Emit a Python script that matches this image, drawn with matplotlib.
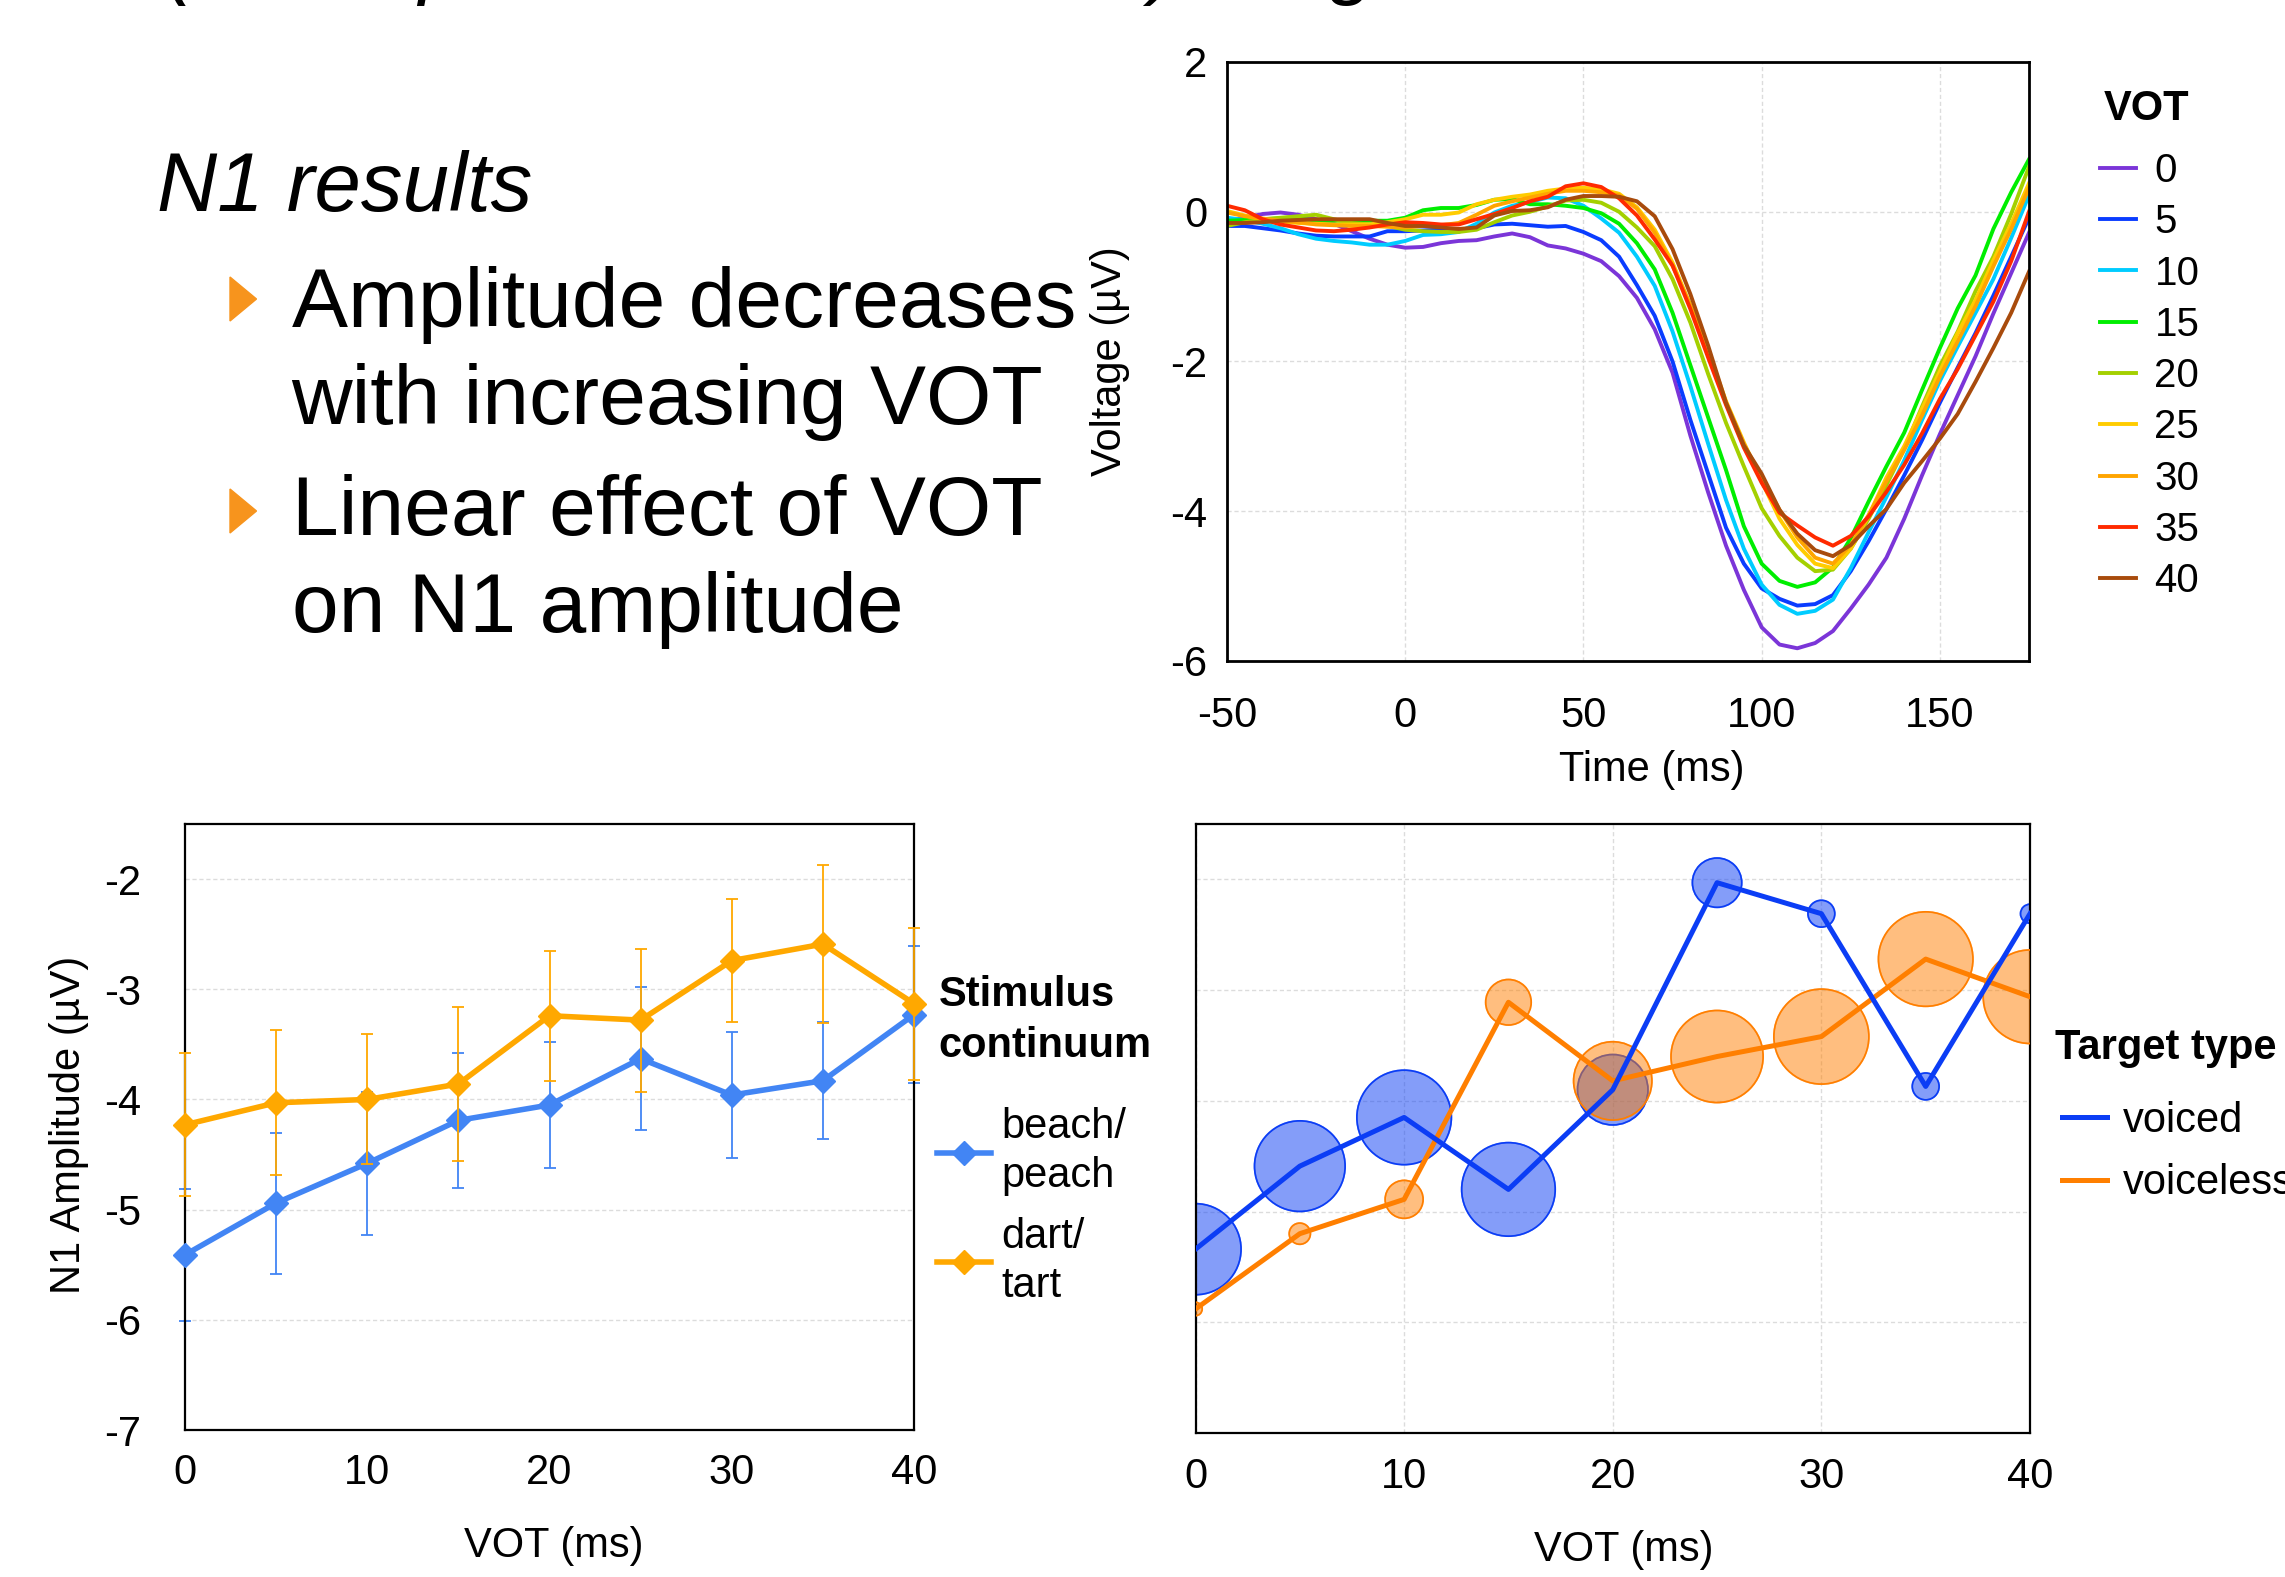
import numpy as np
import matplotlib
matplotlib.use("Agg")
import matplotlib.pyplot as plt
from matplotlib.lines import Line2D
from matplotlib.patches import Polygon

plt.rcParams["font.family"] = ["Liberation Sans", "DejaVu Sans"]
plt.rcParams["axes.unicode_minus"] = False

W, H = 2285, 1577

# ---- ERP waveforms by VOT step (top right) ----
time_ms = np.arange(-50, 176, 5)
vot_labels = ["0", "5", "10", "15", "20", "25", "30", "35", "40"]
vot_colors = ["#7b35d8", "#0a3cff", "#00ccff", "#00ee00", "#a4d000",
              "#ffcc00", "#ffa500", "#ff2a00", "#a84b0c"]

erp_0 = [-0.12, -0.08, -0.03, -0.01, -0.04, -0.10, -0.16, -0.26, -0.36, -0.44,
         -0.48, -0.47, -0.42, -0.39, -0.38, -0.33, -0.29, -0.34, -0.45, -0.49,
         -0.56, -0.66, -0.86, -1.15, -1.57, -2.15, -2.99, -3.75, -4.46, -5.05,
         -5.55, -5.78, -5.83, -5.76, -5.60, -5.30, -4.98, -4.62, -4.10, -3.52,
         -2.97, -2.45, -1.93, -1.36, -0.82, -0.28]
erp_5 = [-0.19, -0.19, -0.22, -0.25, -0.29, -0.32, -0.33, -0.33, -0.33, -0.26,
         -0.26, -0.25, -0.24, -0.26, -0.22, -0.17, -0.16, -0.18, -0.20, -0.19,
         -0.27, -0.38, -0.60, -0.98, -1.39, -2.00, -2.78, -3.50, -4.22, -4.70,
         -5.03, -5.17, -5.26, -5.24, -5.12, -4.80, -4.40, -3.97, -3.52, -3.05,
         -2.55, -2.08, -1.62, -1.12, -0.60, -0.08]
erp_10 = [-0.08, -0.11, -0.16, -0.22, -0.30, -0.36, -0.39, -0.41, -0.44, -0.44,
          -0.39, -0.31, -0.30, -0.27, -0.16, -0.01, 0.08, 0.13, 0.19, 0.18,
          0.08, -0.09, -0.28, -0.60, -0.99, -1.60, -2.33, -3.10, -3.85, -4.50,
          -4.98, -5.25, -5.37, -5.33, -5.18, -4.76, -4.28, -3.81, -3.32, -2.78,
          -2.26, -1.80, -1.35, -0.90, -0.35, 0.22]
erp_15 = [-0.12, -0.11, -0.10, -0.09, -0.09, -0.12, -0.12, -0.12, -0.12, -0.12,
          -0.08, 0.02, 0.05, 0.05, 0.09, 0.16, 0.17, 0.10, 0.10, 0.08,
          0.05, -0.02, -0.16, -0.42, -0.77, -1.35, -2.05, -2.75, -3.45, -4.20,
          -4.70, -4.93, -5.01, -4.95, -4.75, -4.36, -3.87, -3.40, -2.95, -2.38,
          -1.82, -1.29, -0.85, -0.23, 0.26, 0.70]
erp_20 = [-0.19, -0.14, -0.10, -0.08, -0.06, -0.04, -0.10, -0.15, -0.17, -0.19,
          -0.24, -0.26, -0.27, -0.27, -0.24, -0.14, -0.05, 0.00, 0.07, 0.15,
          0.16, 0.12, 0.00, -0.21, -0.46, -0.90, -1.48, -2.17, -2.82, -3.40,
          -3.96, -4.33, -4.62, -4.80, -4.78, -4.50, -4.10, -3.65, -3.17, -2.60,
          -2.06, -1.60, -1.06, -0.60, -0.03, 0.60]
erp_25 = [0.01, -0.05, -0.10, -0.13, -0.15, -0.16, -0.17, -0.17, -0.17, -0.14,
          -0.10, -0.04, -0.04, -0.01, 0.10, 0.16, 0.20, 0.23, 0.28, 0.31,
          0.32, 0.30, 0.24, 0.06, -0.24, -0.68, -1.25, -1.86, -2.53, -3.08,
          -3.60, -4.10, -4.45, -4.70, -4.76, -4.50, -4.06, -3.55, -3.13, -2.63,
          -2.13, -1.62, -1.18, -0.65, -0.16, 0.38]
erp_30 = [-0.01, -0.06, -0.09, -0.12, -0.14, -0.17, -0.18, -0.19, -0.19, -0.20,
          -0.21, -0.19, -0.18, -0.15, -0.04, 0.08, 0.14, 0.19, 0.24, 0.28,
          0.28, 0.26, 0.22, 0.04, -0.28, -0.72, -1.25, -1.90, -2.55, -3.10,
          -3.55, -3.98, -4.35, -4.62, -4.70, -4.45, -4.05, -3.60, -3.18, -2.72,
          -2.20, -1.73, -1.26, -0.73, -0.23, 0.32]
erp_35 = [0.08, 0.02, -0.10, -0.17, -0.21, -0.25, -0.26, -0.24, -0.21, -0.17,
          -0.14, -0.15, -0.17, -0.17, -0.10, -0.03, 0.05, 0.14, 0.20, 0.34,
          0.38, 0.33, 0.18, -0.05, -0.37, -0.72, -1.30, -1.95, -2.58, -3.15,
          -3.62, -4.02, -4.19, -4.35, -4.46, -4.33, -4.07, -3.74, -3.38, -2.96,
          -2.50, -2.10, -1.65, -1.20, -0.66, 0.00]
erp_40 = [-0.15, -0.15, -0.14, -0.12, -0.11, -0.10, -0.10, -0.10, -0.10, -0.15,
          -0.19, -0.19, -0.21, -0.23, -0.21, -0.05, 0.01, 0.02, 0.06, 0.16,
          0.21, 0.21, 0.20, 0.14, -0.06, -0.50, -1.10, -1.79, -2.55, -3.12,
          -3.50, -3.98, -4.30, -4.52, -4.60, -4.45, -4.20, -3.97, -3.62, -3.33,
          -3.03, -2.70, -2.27, -1.82, -1.35, -0.80]
erp_waves = [erp_0, erp_5, erp_10, erp_15, erp_20, erp_25, erp_30, erp_35, erp_40]

# ---- N1 amplitude by continuum (bottom left) ----
vot_steps = [0, 5, 10, 15, 20, 25, 30, 35, 40]
beach_peach = [-5.41, -4.94, -4.58, -4.19, -4.05, -3.63, -3.96, -3.83, -3.23]
beach_peach_err = [0.60, 0.64, 0.65, 0.61, 0.57, 0.65, 0.57, 0.53, 0.62]
dart_tart = [-4.23, -4.03, -4.00, -3.86, -3.24, -3.28, -2.74, -2.59, -3.13]
dart_tart_err = [0.65, 0.66, 0.59, 0.70, 0.59, 0.65, 0.56, 0.72, 0.69]

# ---- N1 by response type, bubble = share of responses (bottom right) ----
voiced_amp = [-5.34, -4.59, -4.15, -4.80, -3.90, -2.03, -2.31, -3.87, -2.31]
voiced_pct = [92, 91, 99, 97, 55, 27, 8, 8, 4]
voiceless_amp = [-5.88, -5.20, -4.89, -3.11, -3.82, -3.60, -3.42, -2.72, -3.06]
voiceless_pct = [2, 5, 16, 23, 68, 94, 100, 99, 97]

GRID = dict(color="#dcdcdc", linestyle=(0, (3, 2)), linewidth=1.0)

fig = plt.figure(figsize=(W / 100, H / 100), dpi=100)
fig.patch.set_facecolor("white")


def px_axes(left, top, right, bottom):
    return fig.add_axes([left / W, 1 - bottom / H, (right - left) / W, (bottom - top) / H])


# ---------- slide text ----------
# line of the previous slide text, only its descenders peek in at the top
for s, x in [("(", 165), ("p", 418), ("),", 1150), ("g", 1330)]:
    fig.text(x / W, 1 + 11 / H, s, fontsize=60, style="italic", va="baseline")

fig.text(157 / W, 1 - 211 / H, "N1 results", fontsize=60, style="italic", va="baseline")
fig.text(291.5 / W, 1 - 266 / H, "Amplitude decreases\nwith increasing VOT",
         fontsize=60.5, va="top", linespacing=1.31)
fig.text(291.5 / W, 1 - 474 / H, "Linear effect of VOT\non N1 amplitude",
         fontsize=60.5, va="top", linespacing=1.31)
for top in (277, 489):
    tri = [(230 / W, 1 - top / H), (256.5 / W, 1 - (top + 22) / H), (230 / W, 1 - (top + 44) / H)]
    fig.add_artist(Polygon(tri, closed=True, color="#f7941d", transform=fig.transFigure))

# ---------- ERP waveforms ----------
ax1 = px_axes(1227, 62, 2029, 661)
lines = []
for wave, c in zip(erp_waves, vot_colors):
    ln, = ax1.plot(time_ms, wave, color=c, linewidth=2.8)
    lines.append(ln)
ax1.set_xlim(-50, 175)
ax1.set_ylim(-6, 2)
ax1.set_xticks([-50, 0, 50, 100, 150])
ax1.set_yticks([-6, -4, -2, 0, 2])
ax1.grid(True, **GRID)
ax1.set_axisbelow(True)
ax1.tick_params(axis="both", length=0, labelsize=30)
ax1.tick_params(axis="x", pad=25)
ax1.tick_params(axis="y", pad=14)
for sp in ax1.spines.values():
    sp.set_linewidth(2.0)
ax1.set_xlabel("Time (ms)", fontsize=30)
ax1.set_ylabel("Voltage (µV)", fontsize=30)
ax1.xaxis.set_label_coords(0.529, -0.148)
ax1.yaxis.set_label_coords(-0.121, 0.5)

ax1.legend(lines, vot_labels, loc="upper left", bbox_to_anchor=(2100 / W, 1 - 152 / H),
           bbox_transform=fig.transFigure, frameon=False, fontsize=29,
           handlelength=0.9, handletextpad=0.45, labelspacing=0.33,
           borderpad=0, borderaxespad=0)
fig.text(2104 / W, 1 - 119.5 / H, "VOT", fontsize=30, weight="bold", va="baseline")

# ---------- N1 amplitude by continuum ----------
ax2 = px_axes(185, 824, 914, 1430)
blue, orange = "#4285f4", "#ffa800"
series = [(beach_peach, beach_peach_err, blue, "beach/\npeach"),
          (dart_tart, dart_tart_err, orange, "dart/\ntart")]
handles2 = []
for k, (vals, err, c, lab) in enumerate(series):
    eb = ax2.errorbar(vot_steps, vals, yerr=err, fmt="none", ecolor=c, elinewidth=1.3,
                      capsize=4.5, capthick=1.3, zorder=2 + 2 * k)
    for art in eb.get_children():
        art.set_clip_on(False)
    ln, = ax2.plot(vot_steps, vals, color=c, linewidth=4, marker="D", markersize=12.5,
                   zorder=3 + 2 * k, clip_on=False)
    handles2.append(ln)
ax2.set_xlim(0, 40)
ax2.set_ylim(-7, -1.5)
ax2.set_xticks([0, 10, 20, 30, 40])
ax2.set_yticks([-7, -6, -5, -4, -3, -2])
ax2.grid(True, axis="y", **GRID)
ax2.set_axisbelow(True)
ax2.tick_params(axis="both", length=0, labelsize=30)
ax2.tick_params(axis="x", pad=16.5)
ax2.tick_params(axis="y", pad=31.5)
for sp in ax2.spines.values():
    sp.set_linewidth(1.6)
ax2.set_xlabel("VOT (ms)", fontsize=30)
ax2.set_ylabel("N1 Amplitude (µV)", fontsize=30)
ax2.xaxis.set_label_coords(0.506, -0.158)
ax2.yaxis.set_label_coords(-0.132, 0.503)

leg2 = ax2.legend(handles2, [s[3] for s in series], loc="upper left",
                  bbox_to_anchor=(937 / W, 1 - 1107 / H), bbox_transform=fig.transFigure,
                  frameon=False, fontsize=30, handlelength=1.3, handletextpad=0.24,
                  labelspacing=0.49, borderpad=0, borderaxespad=0)
for t in leg2.get_texts():
    t.set_linespacing(1.30)
fig.text(938.5 / W, 1 - 975 / H, "Stimulus\ncontinuum", fontsize=30, weight="bold",
         va="top", linespacing=1.35)

# ---------- bubble chart by target type ----------
ax3 = px_axes(1195.5, 824, 2030, 1433)
vblue, vorange = "#0b3df5", "#ff7f00"
ax3.scatter(vot_steps, voiced_amp, s=np.array(voiced_pct) * 46.8, color=vblue, alpha=0.5,
            edgecolors=vblue, linewidths=1.2, zorder=2)
ax3.scatter(vot_steps, voiced_amp, s=np.array(voiced_pct) * 46.8, facecolors="none",
            edgecolors=vblue, linewidths=1.2, zorder=2)
ax3.scatter(vot_steps, voiceless_amp, s=np.array(voiceless_pct) * 46.8, color=vorange,
            alpha=0.5, edgecolors=vorange, linewidths=1.2, zorder=3)
ax3.scatter(vot_steps, voiceless_amp, s=np.array(voiceless_pct) * 46.8, facecolors="none",
            edgecolors=vorange, linewidths=1.2, zorder=3)
l_vl, = ax3.plot(vot_steps, voiceless_amp, color=vorange, linewidth=3.6, zorder=4)
l_v, = ax3.plot(vot_steps, voiced_amp, color=vblue, linewidth=3.6, zorder=5)
ax3.set_xlim(0, 40)
ax3.set_ylim(-7, -1.5)
ax3.set_xticks([0, 10, 20, 30, 40])
ax3.set_yticks([-6, -5, -4, -3, -2])
ax3.grid(True, **GRID)
ax3.set_axisbelow(True)
ax3.tick_params(axis="both", length=0, labelsize=30)
ax3.tick_params(axis="x", pad=17)
ax3.tick_params(axis="y", labelleft=False)
for sp in ax3.spines.values():
    sp.set_linewidth(1.6)
ax3.set_xlabel("VOT (ms)", fontsize=30)
ax3.xaxis.set_label_coords(0.513, -0.159)

ax3.legend([Line2D([], [], color=vblue, lw=3.6), Line2D([], [], color=vorange, lw=3.6)],
           ["voiced", "voiceless"], loc="upper left",
           bbox_to_anchor=(2062 / W, 1 - 1101 / H), bbox_transform=fig.transFigure,
           frameon=False, fontsize=30, handlelength=1.08, handletextpad=0.38,
           labelspacing=0.53, borderpad=0, borderaxespad=0)
fig.text(2055 / W, 1 - 1059 / H, "Target type", fontsize=30, weight="bold", va="baseline")

fig.savefig("out.png", dpi=100, facecolor="white")
